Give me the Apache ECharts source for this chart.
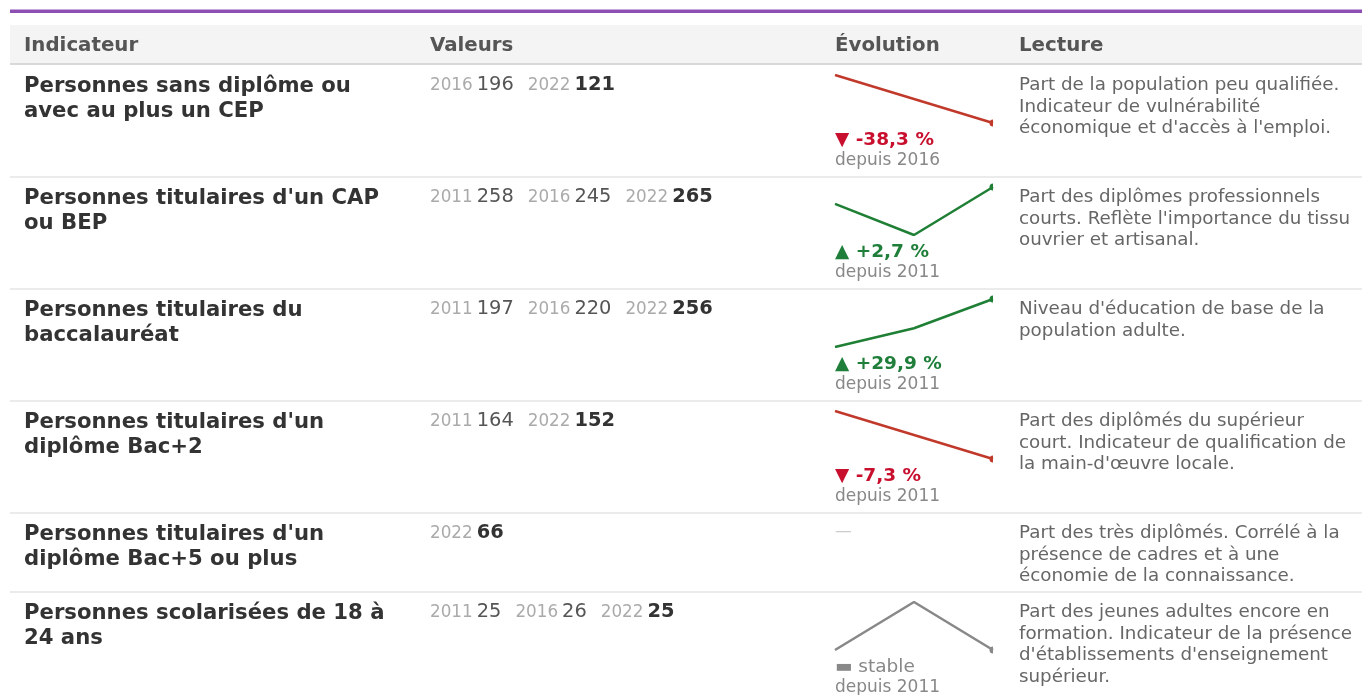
<!DOCTYPE html>
<html>
<head>
<meta charset="utf-8">
<script src="https://cdn.jsdelivr.net/npm/echarts@6.0.0/dist/echarts.min.js"></script>
<style>
  html, body { margin: 0; padding: 0; background: #fff; }
  #tableau { width: 1362px; height: 695px; }
</style>
</head>
<body>
<div id="tableau"></div>
<script>
// libellés des indicateurs
var indicateurs = [
  "Personnes sans diplôme ou\navec au plus un CEP",
  "Personnes titulaires d'un CAP\nou BEP",
  "Personnes titulaires du\nbaccalauréat",
  "Personnes titulaires d'un\ndiplôme Bac+2",
  "Personnes titulaires d'un\ndiplôme Bac+5 ou plus",
  "Personnes scolarisées de 18 à\n24 ans"
];
// années disponibles par indicateur
var annees = [
  ["2016", "2022"],
  ["2011", "2016", "2022"],
  ["2011", "2016", "2022"],
  ["2011", "2022"],
  ["2022"],
  ["2011", "2016", "2022"]
];
// valeurs correspondantes
var valeurs = [
  [196, 121],
  [258, 245, 265],
  [197, 220, 256],
  [164, 152],
  [66],
  [25, 26, 25]
];
// textes de lecture
var lectures = [
  "Part de la population peu qualifiée.\nIndicateur de vulnérabilité\néconomique et d'accès à l'emploi.",
  "Part des diplômes professionnels\ncourts. Reflète l'importance du tissu\nouvrier et artisanal.",
  "Niveau d'éducation de base de la\npopulation adulte.",
  "Part des diplômés du supérieur\ncourt. Indicateur de qualification de\nla main-d'œuvre locale.",
  "Part des très diplômés. Corrélé à la\nprésence de cadres et à une\néconomie de la connaissance.",
  "Part des jeunes adultes encore en\nformation. Indicateur de la présence\nd'établissements d'enseignement\nsupérieur."
];
var entetes = ["Indicateur", "Valeurs", "Évolution", "Lecture"];

(function() {
  var police = "DejaVu Sans";
  var colX = [24, 430, 835, 1019];
  var hauteurs = [112, 112, 112, 112, 79, 110];
  var debutLignes = 65;
  var finDemi = 'path://M1,0 A1,1 0 0,0 1,2 Z';

  var graphic = [];
  var grids = [], xAxes = [], yAxes = [], series = [];

  // bandeau violet + en-tête
  graphic.push({ type: 'rect', shape: { x: 10, y: 9.5, width: 1352, height: 3.5 }, style: { fill: '#8e4fb5' } });
  graphic.push({ type: 'rect', shape: { x: 10, y: 25, width: 1352, height: 39 }, style: { fill: '#f4f4f4' } });
  graphic.push({ type: 'rect', shape: { x: 10, y: 63, width: 1352, height: 2 }, style: { fill: '#d9d9d9' } });
  entetes.forEach(function(t, i) {
    graphic.push({ type: 'text', x: colX[i], y: 45.5, style: {
      text: t, fontFamily: police, fontSize: 19.8, fontWeight: 'bold', fill: '#555', verticalAlign: 'middle'
    }});
  });

  var haut = debutLignes;
  indicateurs.forEach(function(lib, i) {
    var h = hauteurs[i];
    var ans = annees[i], vals = valeurs[i];

    // intitulé
    graphic.push({ type: 'text', x: colX[0], y: haut + 8.5, style: {
      text: lib, fontFamily: police, fontSize: 21.2, fontWeight: 'bold', fill: '#333', lineHeight: 25, verticalAlign: 'top'
    }});

    // valeurs
    var morceaux = [];
    ans.forEach(function(a, k) {
      morceaux.push('{' + (k === 0 ? 'a' : 'g') + '|' + a + '}');
      morceaux.push('{' + (k === ans.length - 1 ? 'd' : 'v') + '|' + vals[k] + '}');
    });
    graphic.push({ type: 'text', x: colX[1], y: haut + 20, style: {
      text: morceaux.join(''), verticalAlign: 'middle', fontFamily: police,
      rich: {
        a: { fontFamily: police, fontSize: 16.8, fill: '#aaa', padding: [0, 4, 0, 0], verticalAlign: 'bottom' },
        g: { fontFamily: police, fontSize: 16.8, fill: '#aaa', padding: [0, 4, 0, 14], verticalAlign: 'bottom' },
        v: { fontFamily: police, fontSize: 19.4, fill: '#555', verticalAlign: 'bottom' },
        d: { fontFamily: police, fontSize: 19.4, fill: '#333', fontWeight: 'bold', verticalAlign: 'bottom' }
      }
    }});

    // évolution
    if (vals.length > 1) {
      var premier = vals[0], dernier = vals[vals.length - 1];
      var pct = (dernier - premier) / premier * 100;
      var couleurLigne, couleurTexte, libelle, gras = 'bold';
      if (Math.abs(pct) < 0.05) {
        couleurLigne = '#888'; couleurTexte = '#888'; libelle = '▬ stable'; gras = 'normal';
      } else if (pct > 0) {
        couleurLigne = '#1f7f35'; couleurTexte = '#1f7f3a';
        libelle = '▲ +' + pct.toFixed(1).replace('.', ',') + ' %';
      } else {
        couleurLigne = '#c0392b'; couleurTexte = '#c8102e';
        libelle = '▼ ' + pct.toFixed(1).replace('.', ',') + ' %';
      }
      var gi = grids.length;
      grids.push({ left: colX[2], top: haut + 10, width: 158, height: 48 });
      xAxes.push({ gridIndex: gi, type: 'category', data: ans, boundaryGap: false, show: false });
      yAxes.push({ gridIndex: gi, type: 'value', min: 'dataMin', max: 'dataMax', scale: true, show: false });
      series.push({
        type: 'line', xAxisIndex: gi, yAxisIndex: gi, silent: true, animation: false,
        lineStyle: { width: 2.5, color: couleurLigne },
        itemStyle: { color: couleurLigne },
        data: vals.map(function(v, k) {
          return k === vals.length - 1
            ? { value: v, symbol: finDemi, symbolSize: [3.5, 7], symbolOffset: [-1.75, 0] }
            : { value: v, symbol: 'none' };
        })
      });
      graphic.push({ type: 'text', x: colX[2], y: haut + 75.5, style: {
        text: libelle, fontFamily: police, fontSize: 18.5, fontWeight: gras, fill: couleurTexte, verticalAlign: 'middle'
      }});
      graphic.push({ type: 'text', x: colX[2], y: haut + 96, style: {
        text: 'depuis ' + ans[0], fontFamily: police, fontSize: 17, fill: '#888', verticalAlign: 'middle'
      }});
    } else {
      graphic.push({ type: 'text', x: colX[2], y: haut + 19, style: {
        text: '—', fontFamily: police, fontSize: 16.8, fill: '#ccc', verticalAlign: 'middle'
      }});
    }

    // lecture
    graphic.push({ type: 'text', x: colX[3], y: haut + 9.5, style: {
      text: lectures[i], fontFamily: police, fontSize: 18.3, fill: '#666', lineHeight: 21.6, verticalAlign: 'top'
    }});

    haut += h;
    if (i < indicateurs.length - 1) {
      graphic.push({ type: 'rect', shape: { x: 10, y: haut - 1, width: 1352, height: 2 }, style: { fill: '#ebebeb' } });
    }
  });

  var chart = echarts.init(document.getElementById('tableau'));
  chart.setOption({
    animation: false,
    grid: grids,
    xAxis: xAxes,
    yAxis: yAxes,
    series: series,
    graphic: { elements: graphic }
  });
})();
</script>
</body>
</html>
